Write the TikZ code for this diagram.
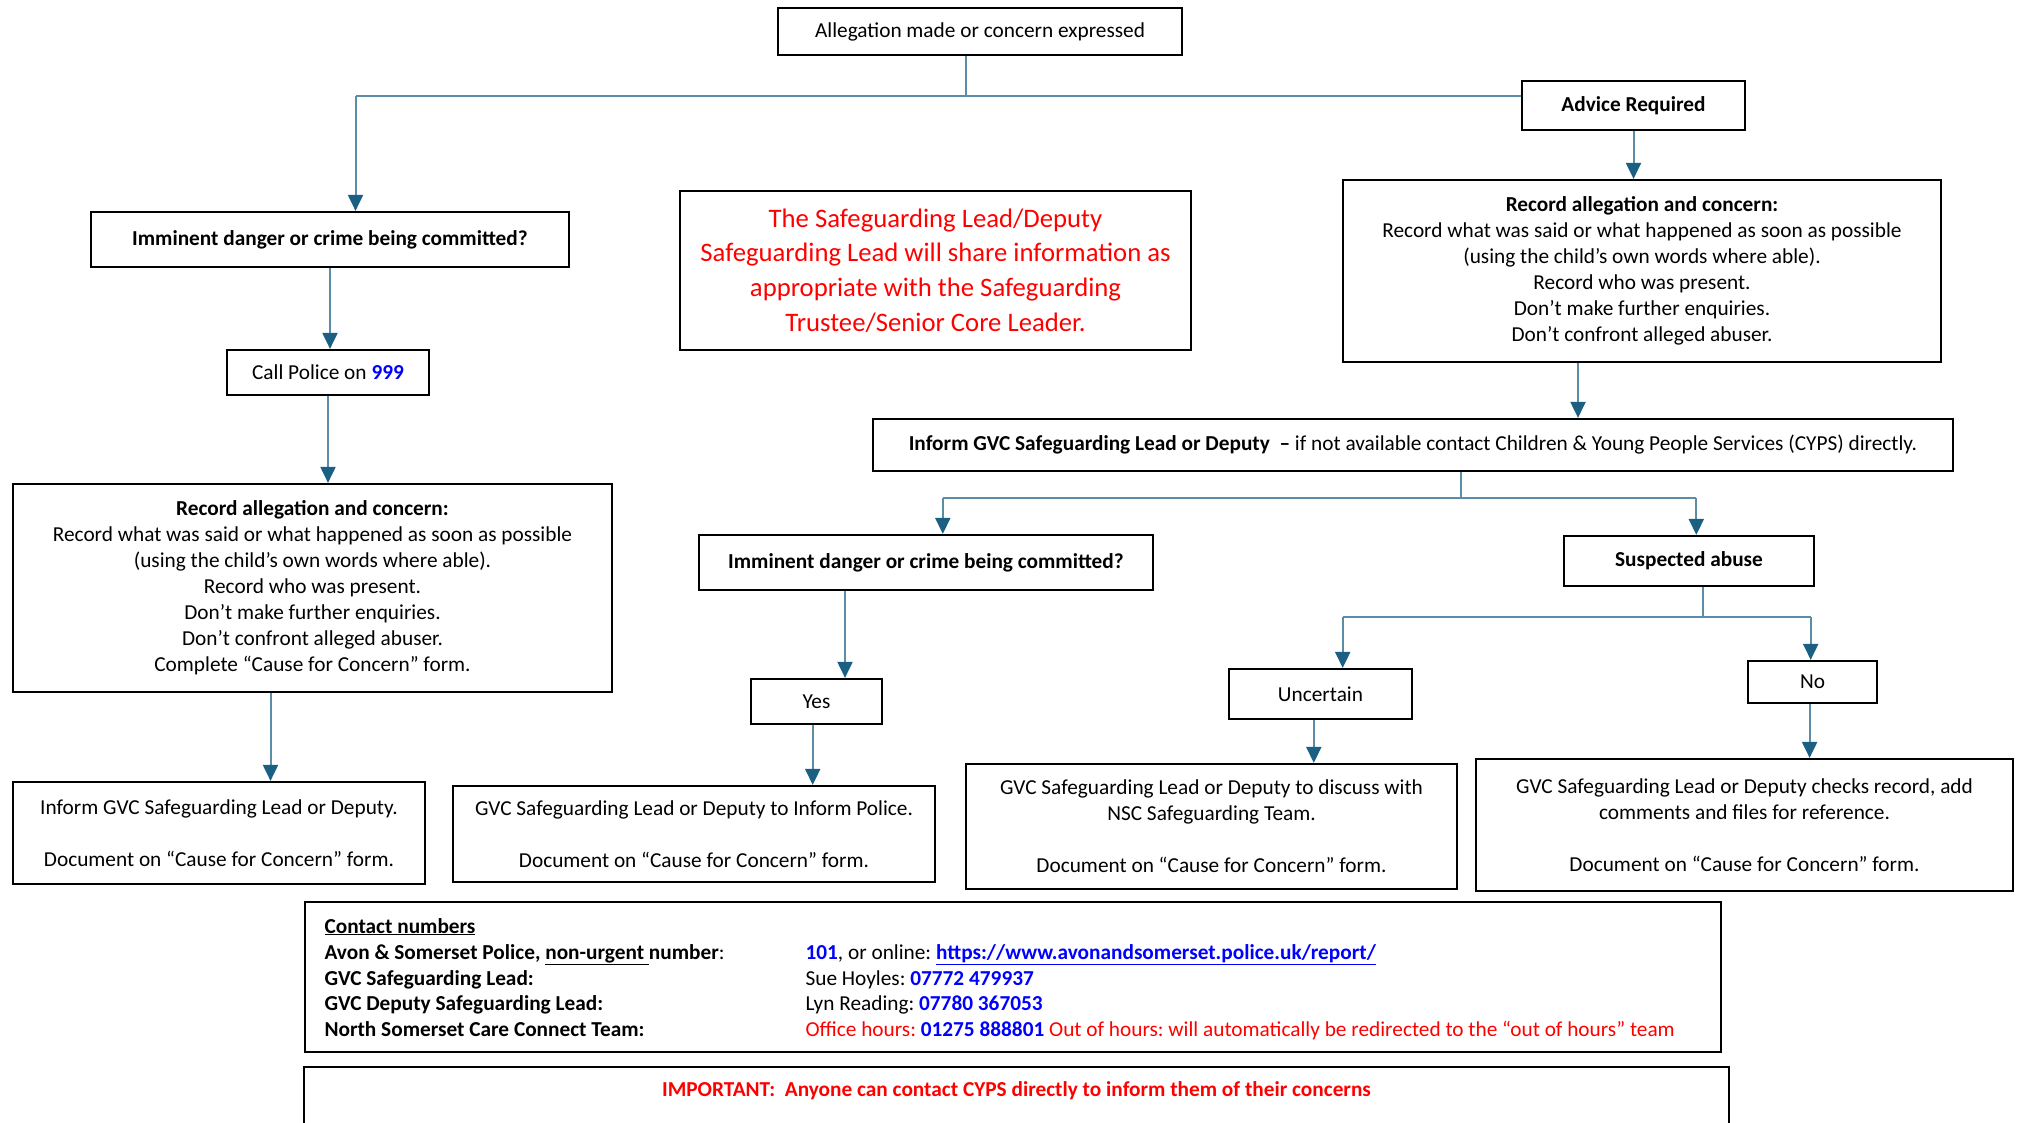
\documentclass[tikz,border=0pt]{standalone}
\usepackage{fontspec}
\setmainfont{Carlito}
\usetikzlibrary{arrows.meta}
\definecolor{linkblue}{HTML}{5B8DA8}
\definecolor{tipblue}{HTML}{1B5F82}
\definecolor{numblue}{HTML}{0000FF}
\definecolor{warnred}{HTML}{FF0000}
\newcommand{\phn}[1]{\textbf{\textcolor{numblue}{#1}}}
\frenchspacing
\begin{document}
\begin{tikzpicture}[x=1pt, y=-1pt, font=\fontsize{21.3}{26}\selectfont,
	box/.style={draw, line width=2.2pt, inner sep=0pt, align=center},
	conn/.style={draw=linkblue, line width=2pt},
	arr/.style={conn, -{Triangle[width=15pt,length=16pt,color=tipblue]}}]
\useasboundingbox (0,0) rectangle (2020,1122);
%boxes
\node[box, minimum width=404, minimum height=47] (alleg) at (980,31.5) {Allegation made or concern expressed};
\node[box, minimum width=223, minimum height=49] (advice) at (1633.5,105.5) {\textbf{Advice Required}};
\node[box, minimum width=478, minimum height=55] (imm1) at (330,239.5) {\textbf{Imminent danger or crime being committed?}};
\node[box, minimum width=511, minimum height=159, text=warnred, font=\fontsize{26.7}{34.8}\selectfont] (share) at (935.5,270.5)
	{The Safeguarding Lead/Deputy\\Safeguarding Lead will share information as\\appropriate with the Safeguarding\\Trustee/Senior Core Leader.};
\node[box, minimum width=598, minimum height=182] (rec2) at (1642,271)
	{\textbf{Record allegation and concern:}\\Record what was said or what happened as soon as possible\\(using the child’s own words where able).\\Record who was present.\\Don’t make further enquiries.\\Don’t confront alleged abuser.};
\node[box, minimum width=202, minimum height=45] (call) at (328,372.5) {Call Police on \phn{999}};
\node[box, minimum width=599, minimum height=208] (rec1) at (312.5,588)
	{\textbf{Record allegation and concern:}\\Record what was said or what happened as soon as possible\\(using the child’s own words where able).\\Record who was present.\\Don’t make further enquiries.\\Don’t confront alleged abuser.\\Complete “Cause for Concern” form.};
\node[box, minimum width=412, minimum height=102] (inform1) at (219,833)
	{Inform GVC Safeguarding Lead or Deputy.\\[26pt]Document on “Cause for Concern” form.};
\node[box, minimum width=1080, minimum height=52] (wide) at (1413,445)
	{\textbf{Inform GVC Safeguarding Lead or Deputy\ \ –} if not available contact Children \& Young People Services (CYPS) directly.};
\node[box, minimum width=454, minimum height=55] (imm2) at (926,562.5) {\textbf{Imminent danger or crime being committed?}};
\node[box, minimum width=250, minimum height=50] (susp) at (1689,561) {\textbf{Suspected abuse}};
\node[box, minimum width=131, minimum height=45] (yes) at (816.5,701.5) {Yes};
\node[box, minimum width=482, minimum height=96] (police) at (694,834)
	{GVC Safeguarding Lead or Deputy to Inform Police.\\[26pt]Document on “Cause for Concern” form.};
\node[box, minimum width=183, minimum height=50] (unc) at (1320.5,694) {Uncertain};
\node[box, minimum width=129, minimum height=42] (no) at (1812.5,682) {No};
\node[box, minimum width=491, minimum height=125] (uncres) at (1211.5,826.5)
	{GVC Safeguarding Lead or Deputy to discuss with\\NSC Safeguarding Team.\\[26pt]Document on “Cause for Concern” form.};
\node[box, minimum width=537, minimum height=132] (nores) at (1744.5,825)
	{GVC Safeguarding Lead or Deputy checks record, add\\comments and files for reference.\\[26pt]Document on “Cause for Concern” form.};
%contacts
\node[box, minimum width=1416, minimum height=150] (contact) at (1013,977) {};
\node[anchor=base west] (cnhead) at (321,933) {\textbf{\underline{Contact numbers}}};
\foreach \n/\y/\lt/\rt in {
	1/959/{\textbf{Avon \& Somerset Police, \underline{non-urgent\ }number}:}/{\phn{101}, or online: \textcolor{numblue}{\textbf{\underline{https://www.avonandsomerset.police.uk/report/}}}},
	2/985/{\textbf{GVC Safeguarding Lead:}}/{Sue Hoyles: \phn{07772 479937}},
	3/1010/{\textbf{GVC Deputy Safeguarding Lead:}}/{Lyn Reading: \phn{07780 367053}},
	4/1036/{\textbf{North Somerset Care Connect Team:}}/{\textcolor{warnred}{Office hours:} \phn{01275 888801} \textcolor{warnred}{Out of hours: will automatically be redirected to the “out of hours” team}}
}{
	\node[anchor=base west] (cl\n) at (321,\y) {\lt};
	\node[anchor=base west] (cr\n) at (802,\y) {\rt};
}
\node[box, anchor=north, minimum width=1425, minimum height=90] (impbox) at (1016.5,1066) {};
\node[text=warnred] (imptext) at (1016.5,1091) {\textbf{IMPORTANT:\ \ Anyone can contact CYPS directly to inform them of their concerns}};
%connectors
\coordinate (top) at (966,95.5);
\coordinate (topl) at (355.5,95.5);
\draw[conn] (alleg.south -| top) -- (top);
\draw[conn] (topl) -- (top -| advice.west);
\draw[arr] (topl) -- (topl |- imm1.north);
\draw[arr] (advice.south) -- (advice.south |- rec2.north);
\draw[arr] (imm1.south) -- (imm1.south |- call.north);
\draw[arr] (call.south) -- (call.south |- rec1.north);
\coordinate (d1) at (270.5,0);
\draw[arr] (rec1.south -| d1) -- (d1 |- inform1.north);
\coordinate (d2) at (1578,0);
\draw[arr] (rec2.south -| d2) -- (d2 |- wide.north);
\coordinate (mid) at (1461,497.7);
\coordinate (midl) at (942.8,497.7);
\coordinate (midr) at (1696.3,497.7);
\draw[conn] (wide.south -| mid) -- (mid);
\draw[conn] (midl) -- (midr);
\draw[arr] (midl) -- (midl |- imm2.north);
\draw[arr] (midr) -- (midr |- susp.north);
\coordinate (d3) at (845,0);
\draw[arr] (imm2.south -| d3) -- (d3 |- yes.north);
\coordinate (d4) at (812.7,0);
\draw[arr] (yes.south -| d4) -- (d4 |- police.north);
\coordinate (low) at (1702.7,616.7);
\coordinate (lowl) at (1342.7,616.7);
\coordinate (lowr) at (1810.7,616.7);
\draw[conn] (susp.south -| low) -- (low);
\draw[conn] (lowl) -- (lowr);
\draw[arr] (lowl) -- (lowl |- unc.north);
\draw[arr] (lowr) -- (lowr |- no.north);
\coordinate (d5) at (1313.8,0);
\draw[arr] (unc.south -| d5) -- (d5 |- uncres.north);
\coordinate (d6) at (1809.6,0);
\draw[arr] (no.south -| d6) -- (d6 |- nores.north);
\end{tikzpicture}
\end{document}
